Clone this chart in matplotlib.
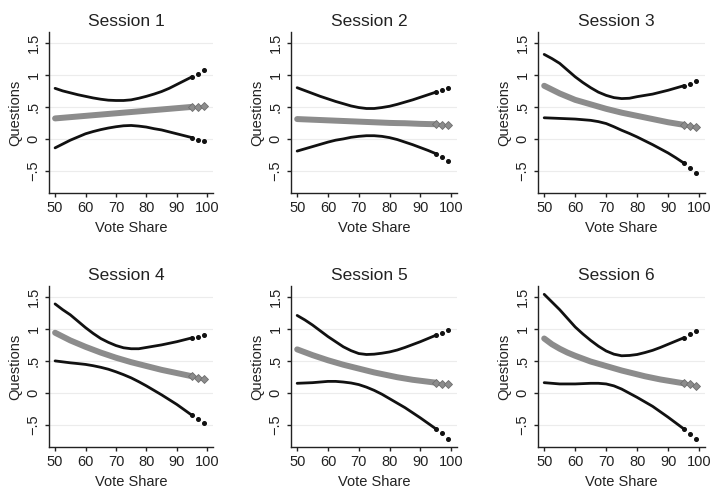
import matplotlib
matplotlib.use("Agg")
import matplotlib.pyplot as plt

plt.rcParams['font.family'] = ['Liberation Sans', 'DejaVu Sans']

# vote share grid (dense part up to 95, then the sparse tail)
vote_share = [50, 52.5, 55, 57.5, 60, 62.5, 65, 67.5, 70, 72.5, 75,
              77.5, 80, 82.5, 85, 87.5, 90, 92.5, 95, 97, 99]
n_dense = 19

sessions = ['Session 1', 'Session 2', 'Session 3',
            'Session 4', 'Session 5', 'Session 6']

upper = [
    [0.79, 0.75, 0.72, 0.69, 0.665, 0.64, 0.62, 0.605, 0.60, 0.60, 0.61,
     0.635, 0.665, 0.70, 0.74, 0.79, 0.85, 0.91, 0.97, 1.02, 1.07],
    [0.80, 0.755, 0.71, 0.665, 0.625, 0.585, 0.55, 0.515, 0.49, 0.475, 0.475,
     0.49, 0.51, 0.54, 0.575, 0.61, 0.65, 0.69, 0.73, 0.76, 0.79],
    [1.32, 1.255, 1.18, 1.075, 0.97, 0.88, 0.80, 0.73, 0.68, 0.645, 0.63,
     0.635, 0.66, 0.68, 0.70, 0.73, 0.76, 0.795, 0.83, 0.86, 0.91],
    [1.39, 1.30, 1.22, 1.12, 1.02, 0.93, 0.85, 0.79, 0.74, 0.705, 0.69,
     0.69, 0.71, 0.73, 0.75, 0.775, 0.80, 0.83, 0.86, 0.88, 0.90],
    [1.21, 1.14, 1.06, 0.97, 0.88, 0.80, 0.72, 0.66, 0.615, 0.60, 0.605,
     0.62, 0.64, 0.67, 0.71, 0.755, 0.80, 0.85, 0.90, 0.94, 0.98],
    [1.54, 1.42, 1.30, 1.165, 1.03, 0.92, 0.82, 0.73, 0.655, 0.605, 0.58,
     0.585, 0.60, 0.63, 0.665, 0.71, 0.76, 0.81, 0.86, 0.92, 0.96],
]
fitted = [
    [0.32, 0.33, 0.34, 0.35, 0.36, 0.37, 0.38, 0.39, 0.40, 0.41, 0.42,
     0.43, 0.44, 0.45, 0.46, 0.47, 0.48, 0.49, 0.50, 0.505, 0.51],
    [0.31, 0.305, 0.30, 0.295, 0.29, 0.285, 0.28, 0.275, 0.27, 0.265, 0.26,
     0.255, 0.25, 0.247, 0.245, 0.24, 0.235, 0.232, 0.23, 0.225, 0.22],
    [0.83, 0.77, 0.71, 0.66, 0.61, 0.575, 0.54, 0.505, 0.47, 0.44, 0.41,
     0.385, 0.36, 0.335, 0.31, 0.285, 0.26, 0.24, 0.22, 0.20, 0.19],
    [0.94, 0.88, 0.82, 0.77, 0.72, 0.675, 0.63, 0.59, 0.55, 0.515, 0.48,
     0.45, 0.42, 0.39, 0.36, 0.335, 0.31, 0.285, 0.26, 0.24, 0.21],
    [0.68, 0.635, 0.59, 0.55, 0.51, 0.475, 0.44, 0.41, 0.38, 0.35, 0.32,
     0.295, 0.27, 0.245, 0.225, 0.205, 0.19, 0.175, 0.16, 0.145, 0.135],
    [0.85, 0.76, 0.69, 0.63, 0.58, 0.535, 0.49, 0.455, 0.42, 0.385, 0.35,
     0.32, 0.29, 0.26, 0.235, 0.21, 0.19, 0.17, 0.15, 0.135, 0.115],
]
lower = [
    [-0.14, -0.08, -0.02, 0.03, 0.08, 0.115, 0.145, 0.17, 0.19, 0.205, 0.21,
     0.20, 0.185, 0.16, 0.14, 0.11, 0.08, 0.05, 0.02, -0.01, -0.04],
    [-0.19, -0.155, -0.12, -0.085, -0.05, -0.02, 0.0, 0.025, 0.04, 0.05, 0.05,
     0.04, 0.02, -0.01, -0.05, -0.09, -0.135, -0.18, -0.23, -0.28, -0.34],
    [0.33, 0.325, 0.32, 0.315, 0.31, 0.30, 0.29, 0.27, 0.24, 0.19, 0.135,
     0.085, 0.03, -0.03, -0.09, -0.155, -0.22, -0.295, -0.375, -0.46, -0.53],
    [0.50, 0.485, 0.47, 0.458, 0.445, 0.425, 0.40, 0.37, 0.33, 0.285, 0.235,
     0.175, 0.11, 0.04, -0.03, -0.105, -0.18, -0.265, -0.35, -0.41, -0.47],
    [0.15, 0.155, 0.16, 0.17, 0.18, 0.18, 0.17, 0.155, 0.13, 0.09, 0.04,
     -0.02, -0.09, -0.16, -0.23, -0.31, -0.39, -0.475, -0.56, -0.62, -0.72],
    [0.16, 0.15, 0.14, 0.14, 0.14, 0.145, 0.15, 0.15, 0.14, 0.11, 0.06,
     -0.005, -0.07, -0.14, -0.21, -0.295, -0.38, -0.47, -0.56, -0.64, -0.72],
]

y_ticks = [-0.5, 0, 0.5, 1, 1.5]
y_ticklabels = ['\u2212.5', '0', '.5', '1', '1.5']
x_ticks = [50, 60, 70, 80, 90, 100]

W, H = 711, 492
fig = plt.figure(figsize=(W / 100, H / 100), dpi=100)

col_left = [49, 291, 538]
col_width = [164, 166, 167]
row_top = [32, 286]
row_height = 161

gray = '#8c8c8c'

for i, name in enumerate(sessions):
    r, c = divmod(i, 3)
    ax = fig.add_axes([col_left[c] / W, 1 - (row_top[r] + row_height) / H,
                       col_width[c] / W, row_height / H])
    xd = vote_share[:n_dense]
    xt = vote_share[n_dense - 1:]
    # fitted values: gray diamonds band
    ax.plot(xd, fitted[i][:n_dense], color=gray, lw=4.3,
            solid_capstyle='round', zorder=3)
    ax.plot(xt, fitted[i][n_dense - 1:], ls='none', marker='D', ms=4.5,
            mfc=gray, mec='#6e6e6e', mew=0.6, zorder=3)
    # confidence bounds: black dots
    for band in (upper[i], lower[i]):
        ax.plot(xd, band[:n_dense], color='#111111', lw=2.0,
                solid_capstyle='round', zorder=4)
        ax.plot(xt, band[n_dense - 1:], ls='none', marker='o', ms=2.6,
                color='#111111', zorder=4)

    ax.set_xlim(48, 101.9)
    ax.set_ylim(-0.845, 1.67)
    ax.set_xticks(x_ticks)
    ax.set_yticks(y_ticks)
    ax.set_yticklabels(y_ticklabels, rotation=90, va='center')
    ax.grid(axis='y', color='#ececec', lw=0.8)
    ax.set_axisbelow(True)
    for s in ('top', 'right'):
        ax.spines[s].set_visible(False)
    for s in ('left', 'bottom'):
        ax.spines[s].set_linewidth(1.0)
        ax.spines[s].set_color('#222222')
    ax.tick_params(direction='out', length=3, width=1.0, labelsize=10.5,
                   colors='#222222', pad=3)
    ax.set_title(name, fontsize=12.5, x=0.47, pad=4, color='#222222')
    ax.set_xlabel('Vote Share', fontsize=10.5, labelpad=4, color='#222222')
    ax.set_ylabel('Questions', fontsize=10.5, labelpad=3, color='#222222')

fig.savefig('out.png', dpi=100)
